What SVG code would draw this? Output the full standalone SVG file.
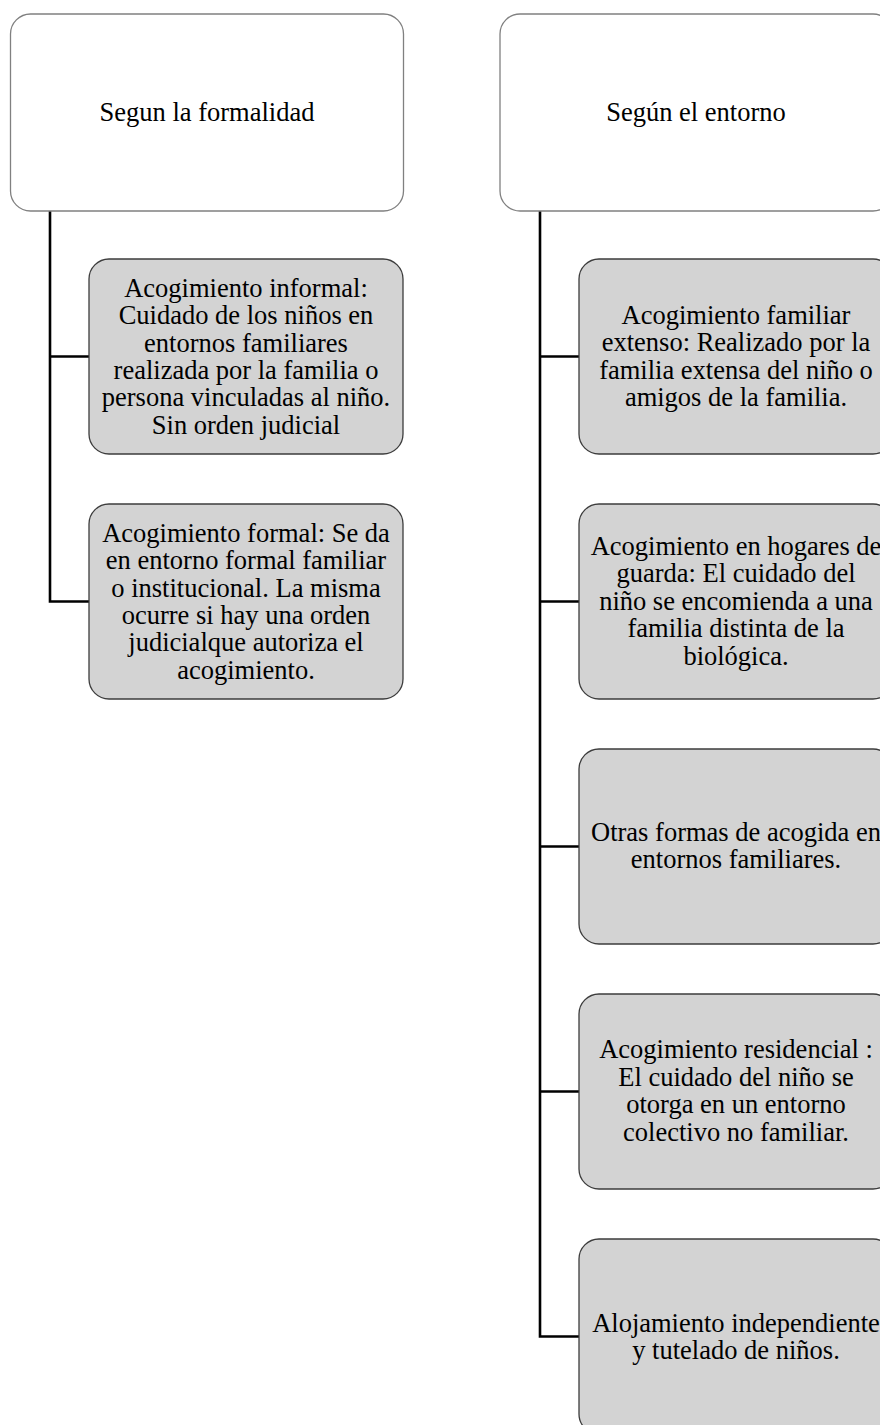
<svg xmlns="http://www.w3.org/2000/svg" width="880" height="1425" viewBox="0 0 880 1425">
<style>
.top{fill:#ffffff;stroke:#808080;stroke-width:1.3}
.child{fill:#d3d3d3;stroke:#3c3c3c;stroke-width:1.3}
.conn{fill:none;stroke:#000000;stroke-width:2.6}
text{font-family:"Liberation Serif","Times New Roman",serif;font-size:26.5px;fill:#000000;text-anchor:middle}
</style>
<rect width="880" height="1425" fill="#ffffff"/>
<g id="connectors">
<path class="conn" d="M50,211 V601.5 H89 M50,356.5 H89"/>
<path class="conn" d="M540,211 V1336.5 H579 M540,356.5 H579 M540,601.5 H579 M540,846.5 H579 M540,1091.5 H579"/>
</g>
<g id="n-formalidad">
<rect class="top" x="10.5" y="14" width="393" height="197" rx="20"/>
<text x="207" y="121">Segun la formalidad</text>
</g>
<g id="n-entorno">
<rect class="top" x="500" y="14" width="393" height="197" rx="20"/>
<text x="696" y="121">Según el entorno</text>
</g>
<g id="n-informal">
<rect class="child" x="89" y="259" width="314" height="195" rx="20"/>
<text x="246" y="296.7">Acogimiento informal:</text>
<text x="246" y="324.1">Cuidado de los niños en</text>
<text x="246" y="351.5">entornos familiares</text>
<text x="246" y="378.9">realizada por la familia o</text>
<text x="246" y="406.3">persona vinculadas al niño.</text>
<text x="246" y="433.7">Sin orden judicial</text>
</g>
<g id="n-formal">
<rect class="child" x="89" y="504" width="314" height="195" rx="20"/>
<text x="246" y="541.7">Acogimiento formal: Se da</text>
<text x="246" y="569.1">en entorno formal familiar</text>
<text x="246" y="596.5">o institucional. La misma</text>
<text x="246" y="623.9">ocurre si hay una orden</text>
<text x="246" y="651.3">judicialque autoriza el</text>
<text x="246" y="678.7">acogimiento.</text>
</g>
<g id="n-extenso">
<rect class="child" x="579" y="259" width="314" height="195" rx="20"/>
<text x="736" y="323.5">Acogimiento familiar</text>
<text x="736" y="351">extenso: Realizado por la</text>
<text x="736" y="378.5">familia extensa del niño o</text>
<text x="736" y="406">amigos de la familia.</text>
</g>
<g id="n-guarda">
<rect class="child" x="579" y="504" width="314" height="195" rx="20"/>
<text x="736" y="554.5">Acogimiento en hogares de</text>
<text x="736" y="582">guarda: El cuidado del</text>
<text x="736" y="609.5">niño se encomienda a una</text>
<text x="736" y="637">familia distinta de la</text>
<text x="736" y="664.5">biológica.</text>
</g>
<g id="n-otras">
<rect class="child" x="579" y="749" width="314" height="195" rx="20"/>
<text x="736" y="840.5">Otras formas de acogida en</text>
<text x="736" y="868">entornos familiares.</text>
</g>
<g id="n-residencial">
<rect class="child" x="579" y="994" width="314" height="195" rx="20"/>
<text x="736" y="1058">Acogimiento residencial :</text>
<text x="736" y="1085.5">El cuidado del niño se</text>
<text x="736" y="1113">otorga en un entorno</text>
<text x="736" y="1140.5">colectivo no familiar.</text>
</g>
<g id="n-alojamiento">
<rect class="child" x="579" y="1239" width="314" height="195" rx="20"/>
<text x="736" y="1331.5">Alojamiento independiente</text>
<text x="736" y="1359">y tutelado de niños.</text>
</g>
</svg>
